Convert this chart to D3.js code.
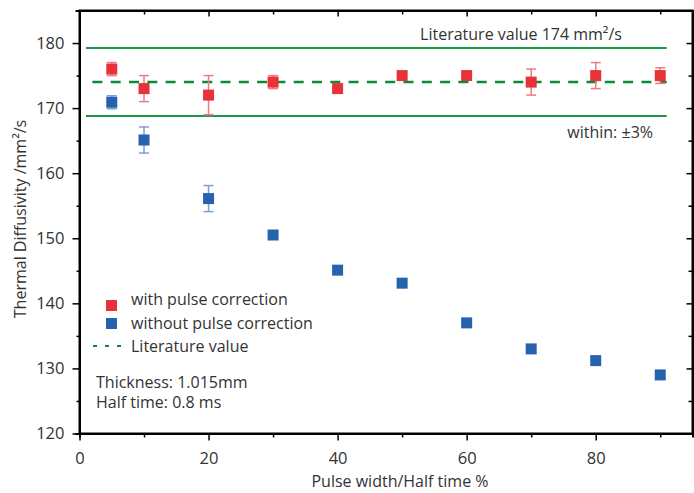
<!DOCTYPE html>
<html><head><meta charset="utf-8">
<script src="https://cdn.jsdelivr.net/npm/d3@7"></script>
<style>
body{margin:0;background:#fff;}
svg text{font-family:"Open Sans",sans-serif;fill:#333;}
</style></head>
<body><svg id="c" width="694" height="493"></svg>
<script>
// ---- data ----
const pulseWidth = [5, 10, 20, 30, 40, 50, 60, 70, 80, 90];
const withCorr = [176, 173, 172, 174, 173, 175, 175, 174, 175, 175];
const withCorrErr = [1, 2, 3, 1, 0.6, 0.6, 0.6, 2, 2, 1.2];
const withoutCorr = [170.9, 165.1, 156.1, 150.5, 145.1, 143.1, 137, 133, 131.2, 129];
const withoutCorrErr = [1, 2, 2, 0, 0, 0, 0.5, 0.5, 0, 0];
const literatureValue = 174;
const tolerance = 0.03;
const litLineRange = [1, 91];
const xTicksMajor = [0, 20, 40, 60, 80];
const yTicksMajor = [120, 130, 140, 150, 160, 170, 180];
const legendLabels = ["with pulse correction", "without pulse correction", "Literature value"];
const noteLines = ["Thickness: 1.015mm", "Half time: 0.8 ms"];
const litLabel = "Literature value 174 mm\u00B2/s";
const withinLabel = "within: \u00B13%";
const xTitle = "Pulse width/Half time %";
const yTitle = "Thermal Diffusivity /mm\u00B2/s";

const RED = "#e8323a", BLUE = "#2663ae", RED_E = "#f07b80", BLUE_E = "#7aa0d4";
const GREEN = "#1a9a48", GREEN_D = "#0b8a3a";
const FS = "16px", TFS = "16.5px";

const svg = d3.select("#c");
const L = 79.5, R = 692.5, T = 10.5, B = 433.5;
const x = d3.scaleLinear().domain([0, 95]).range([L, R]);
const y = d3.scaleLinear().domain([120, 185]).range([B, T]);

const minorX = d3.range(0, 95, 10);
const minorY = d3.range(120, 185, 5);
// bottom
const gb = svg.append("g").attr("transform", `translate(0,${B})`)
  .call(d3.axisBottom(x).tickValues(minorX).tickSize(4).tickFormat(""));
gb.selectAll(".tick line").attr("y2", d => d % 20 === 0 ? 7 : 4);
const gbl = svg.append("g").attr("transform", `translate(0,${B})`)
  .call(d3.axisBottom(x).tickValues(xTicksMajor).tickSize(0).tickPadding(19).tickFormat(d3.format("d")));
gbl.select(".domain").remove();
// top
const gt = svg.append("g").attr("transform", `translate(0,${T})`)
  .call(d3.axisBottom(x).tickValues(minorX.filter(d=>d>0)).tickSize(4).tickFormat(""));
gt.selectAll(".tick line").attr("y2", d => d % 20 === 0 ? 6 : 4);
// left
const gl = svg.append("g").attr("transform", `translate(${L},0)`)
  .call(d3.axisLeft(y).tickValues(minorY).tickSize(4).tickFormat(""));
gl.selectAll(".tick line").attr("x2", d => d % 10 === 0 ? -7 : -3);
const gll = svg.append("g").attr("transform", `translate(${L},0)`)
  .call(d3.axisLeft(y).tickValues(yTicksMajor).tickSize(0).tickPadding(15).tickFormat(d3.format("d")));
gll.select(".domain").remove();
// right
const gr = svg.append("g").attr("transform", `translate(${R},0)`)
  .call(d3.axisLeft(y).tickValues(minorY.filter(d=>d>120)).tickSize(4).tickFormat(""));
gr.selectAll(".tick line").attr("x2", d => d % 10 === 0 ? -6 : -4);
svg.selectAll(".domain").attr("stroke", "#000").attr("stroke-width", 2);
svg.selectAll(".tick line").attr("stroke", "#000").attr("stroke-width", 1.5);
svg.selectAll(".tick text").style("font-size", TFS).style("font-family", "'Open Sans',sans-serif").attr("fill", "#333");
// frame
svg.append("rect").attr("x", L).attr("y", T).attr("width", R - L).attr("height", B - T)
  .attr("fill", "none").attr("stroke", "#000").attr("stroke-width", 2);

// literature lines
[literatureValue * (1 + tolerance), literatureValue * (1 - tolerance)].forEach(v => {
  svg.append("line").attr("x1", x(litLineRange[0])).attr("x2", x(litLineRange[1]))
    .attr("y1", y(v)).attr("y2", y(v)).attr("stroke", GREEN).attr("stroke-width", 2);
});
svg.append("line").attr("x1", x(2)).attr("x2", x(litLineRange[1]))
  .attr("y1", y(literatureValue)).attr("y2", y(literatureValue))
  .attr("stroke", GREEN_D).attr("stroke-width", 2.5).attr("stroke-dasharray", "10,8.3");

// series
function series(vals, errs, col, ecol){
  const g = svg.append("g");
  pulseWidth.forEach((p, i) => {
    if (errs[i] > 0) {
      const xx = x(p), y1 = y(vals[i] + errs[i]), y2 = y(vals[i] - errs[i]);
      g.append("line").attr("x1", xx).attr("x2", xx).attr("y1", y1).attr("y2", y2).attr("stroke", ecol).attr("stroke-width", 1.5);
      [y1, y2].forEach(yy => g.append("line").attr("x1", xx - 5).attr("x2", xx + 5).attr("y1", yy).attr("y2", yy).attr("stroke", ecol).attr("stroke-width", 1.5));
    }
  });
  g.selectAll("rect").data(vals).join("rect")
    .attr("x", (d, i) => x(pulseWidth[i]) - 5.5).attr("y", d => y(d) - 5.5)
    .attr("width", 11).attr("height", 11).attr("fill", col);
}
series(withoutCorr, withoutCorrErr, BLUE, BLUE_E);
series(withCorr, withCorrErr, RED, RED_E);

// annotations
svg.append("text").attr("x", 521).attr("y", 40).attr("text-anchor", "middle").style("font-size", FS).text(litLabel);
svg.append("text").attr("x", 653).attr("y", 138).attr("text-anchor", "end").style("font-size", FS).text(withinLabel);

// legend
svg.append("rect").attr("x", 106).attr("y", 300).attr("width", 11).attr("height", 11).attr("fill", RED);
svg.append("rect").attr("x", 106).attr("y", 318).attr("width", 11).attr("height", 11).attr("fill", BLUE);
svg.append("line").attr("x1", 93).attr("x2", 127).attr("y1", 346).attr("y2", 346)
  .attr("stroke", GREEN_D).attr("stroke-width", 2).attr("stroke-dasharray", "4,8");
[[legendLabels[0], 299], [legendLabels[1], 323], [legendLabels[2], 346]].forEach(([t, yy]) => {
  svg.append("text").attr("x", 131).attr("y", yy).attr("dy", "0.35em").style("font-size", FS).text(t);
});
noteLines.forEach((t, i) => {
  svg.append("text").attr("x", 96).attr("y", 382 + i * 20).attr("dy", "0.35em").style("font-size", FS).text(t);
});

// axis titles
svg.append("text").attr("x", 400).attr("y", 481).attr("dy", "0.35em").attr("text-anchor", "middle").style("font-size", FS).text(xTitle);
svg.append("text").attr("transform", "translate(20,219) rotate(-90)").attr("dy", "0.35em").attr("text-anchor", "middle").style("font-size", FS).text(yTitle);
</script></body></html>
